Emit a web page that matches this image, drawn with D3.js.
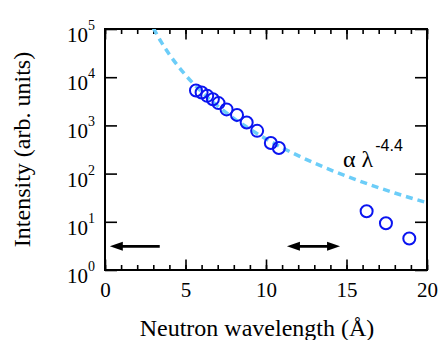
<!DOCTYPE html>
<html>
<head>
<meta charset="utf-8">
<script src="https://cdn.jsdelivr.net/npm/d3@7"></script>
<style>
  html, body { margin: 0; padding: 0; background: #fff; }
  svg { display: block; }
</style>
</head>
<body>
<div id="chart"></div>
<script>
// measured points (wavelength in Å, intensity in arb. units)
const wavelength = [5.65, 6.0, 6.35, 6.7, 7.05, 7.55, 8.2, 8.8, 9.45, 10.3, 10.8, 16.25, 17.45, 18.9];
const intensity = [5300, 4800, 4100, 3500, 2900, 2150, 1650, 1150, 770, 430, 340, 16.5, 9.3, 4.5];

// power-law guide: alpha * lambda^-4.4
const fitAlpha = 1.32e7;
const fitExponent = -4.4;
const fitLambda = [3.0, 3.5, 4, 5, 6, 7, 8, 9, 10, 11, 12, 13, 14, 15, 16, 17, 18, 19, 20];

const xTicksMajor = [0, 5, 10, 15, 20];
const xTicksMinor = d3.range(0, 21);
const yDecades = [1, 10, 100, 1000, 10000, 100000];

// range arrows drawn below the data (x from -> x to, at intensity level)
const arrowY = 3.1;
const arrows = [
  { from: 3.4, to: 0.3, double: false },
  { from: 11.3, to: 14.6, double: true }
];

const W = 438, H = 340;
const margin = { top: 29, right: 11, bottom: 70, left: 105 };
const width = W - margin.left - margin.right;
const height = H - margin.top - margin.bottom;

const svg = d3.select('#chart')
  .append('svg')
  .attr('width', W)
  .attr('height', H);

const g = svg.append('g')
  .attr('transform', `translate(${margin.left},${margin.top})`);

const x = d3.scaleLinear().domain([0, 20]).range([0, width]);
const y = d3.scaleLog().domain([1, 1e5]).range([height, 0]);

const serif = '"Liberation Serif", "Times New Roman", serif';
const sans = '"Liberation Sans", Arial, sans-serif';

svg.append('defs').append('clipPath')
  .attr('id', 'plotClip')
  .append('rect')
  .attr('width', width)
  .attr('height', height);

// ticks (all pointing inwards)
function styleAxis(sel) {
  sel.select('.domain').remove();
  sel.selectAll('.tick line').attr('stroke', '#000').attr('stroke-width', 1.6);
}

g.append('g')
  .attr('transform', `translate(0,${height})`)
  .call(d3.axisBottom(x).tickValues(xTicksMinor).tickSize(-5).tickFormat(''))
  .call(styleAxis);

g.append('g')
  .call(d3.axisTop(x).tickValues(xTicksMinor).tickSize(-5).tickFormat(''))
  .call(styleAxis);

g.append('g')
  .call(d3.axisTop(x).tickValues(xTicksMajor).tickSize(-10.5).tickFormat(''))
  .call(styleAxis);

const xAxis = g.append('g')
  .attr('transform', `translate(0,${height})`)
  .call(d3.axisBottom(x).tickValues(xTicksMajor).tickSize(-10.5).tickFormat(d3.format('d')))
  .call(styleAxis);

xAxis.selectAll('text')
  .attr('y', 27)
  .attr('dy', 0)
  .style('font-family', serif)
  .style('font-size', '21px')
  .attr('fill', '#000');

const yAxis = g.append('g')
  .call(d3.axisLeft(y).tickValues(yDecades).tickSize(-12).tickFormat(''))
  .call(styleAxis);

g.append('g')
  .attr('transform', `translate(${width},0)`)
  .call(d3.axisRight(y).tickValues(yDecades).tickSize(-12).tickFormat(''))
  .call(styleAxis);

// decade labels as 10^n
const yLabels = g.append('g');
yDecades.forEach(d => {
  const t = yLabels.append('text')
    .attr('x', -10)
    .attr('y', y(d) + 13)
    .attr('text-anchor', 'end')
    .style('font-family', serif)
    .style('font-size', '21px');
  t.append('tspan').text('10');
  t.append('tspan')
    .attr('dy', -12)
    .style('font-size', '14px')
    .text(Math.round(Math.log10(d)));
});

// frame
g.append('rect')
  .attr('width', width)
  .attr('height', height)
  .attr('fill', 'none')
  .attr('stroke', '#000')
  .attr('stroke-width', 2);

// dashed power-law guide
const line = d3.line()
  .x(d => x(d))
  .y(d => y(fitAlpha * Math.pow(d, fitExponent)))
  .curve(d3.curveMonotoneX);

g.append('path')
  .datum(fitLambda)
  .attr('clip-path', 'url(#plotClip)')
  .attr('d', line)
  .attr('fill', 'none')
  .attr('stroke', '#6ccdf8')
  .attr('stroke-width', 3.5)
  .attr('stroke-dasharray', '7,5');

// data circles
g.selectAll('circle.pt')
  .data(wavelength.map((w, i) => ({ w, v: intensity[i] })))
  .enter()
  .append('circle')
  .attr('class', 'pt')
  .attr('cx', d => x(d.w))
  .attr('cy', d => y(d.v))
  .attr('r', 6)
  .attr('fill', 'none')
  .attr('stroke', '#0a14f0')
  .attr('stroke-width', 2);

// arrows
const headLen = 13, headHalf = 4.5;
function arrowHead(tipX, dir, yy) {
  // dir = -1 points left, +1 points right
  return `M${tipX},${yy} L${tipX - dir * headLen},${yy - headHalf} L${tipX - dir * headLen},${yy + headHalf} Z`;
}
arrows.forEach(a => {
  const ay = y(arrowY);
  const x0 = x(a.from), x1 = x(a.to);
  const dir = Math.sign(x1 - x0);
  const start = a.double ? x0 + dir * (headLen - 2) : x0;
  g.append('line')
    .attr('x1', start)
    .attr('x2', x1 - dir * (headLen - 2))
    .attr('y1', ay)
    .attr('y2', ay)
    .attr('stroke', '#000')
    .attr('stroke-width', 2.8);
  g.append('path').attr('d', arrowHead(x1, dir, ay)).attr('fill', '#000');
  if (a.double) {
    g.append('path').attr('d', arrowHead(x0, -dir, ay)).attr('fill', '#000');
  }
});

// fit annotation
const ann = svg.append('text')
  .attr('x', 343)
  .attr('y', 167)
  .style('font-family', serif)
  .style('font-size', '24px');
ann.append('tspan').text('α λ');
ann.append('tspan')
  .attr('dy', -16)
  .attr('dx', 2)
  .style('font-family', sans)
  .style('font-size', '16px')
  .text('-4.4');

// axis titles
svg.append('text')
  .attr('x', 257)
  .attr('y', 336)
  .attr('text-anchor', 'middle')
  .style('font-family', serif)
  .style('font-size', '24px')
  .text('Neutron wavelength (Å)');

svg.append('text')
  .attr('transform', `translate(30,${margin.top + height / 2}) rotate(-90)`)
  .attr('text-anchor', 'middle')
  .style('font-family', serif)
  .style('font-size', '24px')
  .text('Intensity (arb. units)');
</script>
</body>
</html>
